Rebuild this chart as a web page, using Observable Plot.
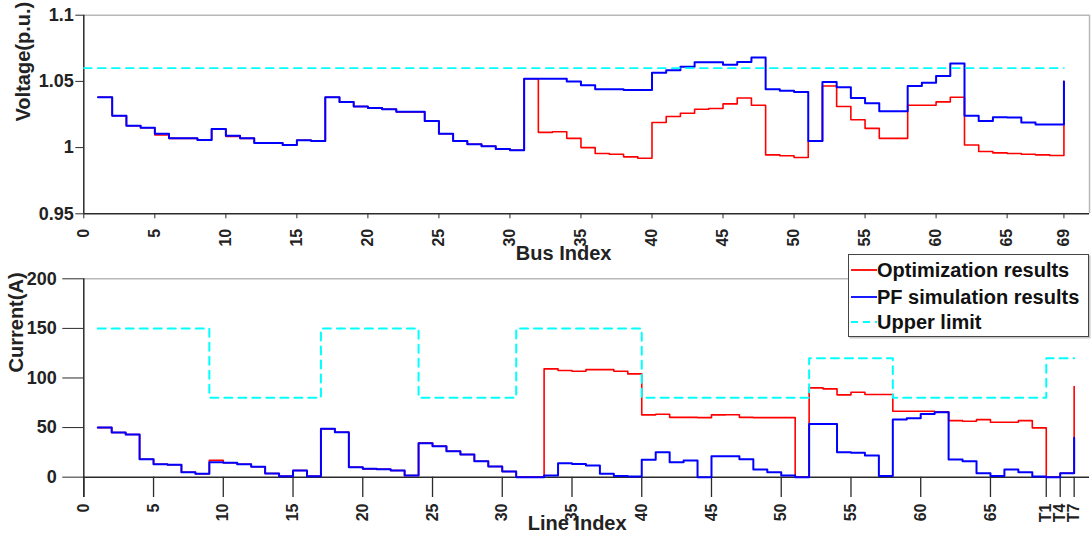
<!DOCTYPE html>
<html>
<head>
<meta charset="utf-8">
<script src="https://cdn.jsdelivr.net/npm/d3@7"></script>
<script src="https://cdn.jsdelivr.net/npm/@observablehq/plot@0.6"></script>
<style>
  body { margin: 0; background: #fff; }
  #wrap { position: relative; width: 1092px; height: 542px; overflow: hidden; font-family: "Liberation Sans", Arial, sans-serif; }
  #top, #bottom, #legend { position: absolute; left: 0; }
  #top { top: 0; }
  #bottom { top: 270px; }
  #legend { top: 0; }
</style>
</head>
<body>
<div id="wrap">
  <div id="top"></div>
  <div id="bottom"></div>
  <div id="legend"></div>
</div>
<script>
// ---------- data ----------
const busIndex = d3.range(1, 70); // 1..69
const voltageOpt = [1.038,1.024,1.0165,1.015,1.0095,1.007,1.007,1.0058,1.014,1.0085,
  1.007,1.0035,1.0035,1.002,1.0055,1.005,1.038,1.0345,1.031,1.030,
  1.029,1.027,1.027,1.020,1.0105,1.005,1.0025,1.001,0.999,0.998,
  1.052,1.0115,1.012,1.007,1.000,0.9955,0.995,0.993,0.992,1.019,
  1.0235,1.026,1.029,1.0295,1.033,1.0375,1.032,0.9945,0.9938,0.9925,
  1.005,1.0465,1.031,1.021,1.0145,1.007,1.007,1.032,1.032,1.0345,
  1.038,1.002,0.997,0.996,0.9955,0.995,0.9945,0.994,1.050];
const voltagePF = [1.038,1.024,1.0165,1.015,1.0105,1.007,1.007,1.0058,1.014,1.009,
  1.007,1.0035,1.0035,1.002,1.0055,1.005,1.038,1.0345,1.031,1.030,
  1.029,1.027,1.027,1.020,1.0105,1.005,1.0025,1.001,0.999,0.998,
  1.052,1.052,1.052,1.050,1.047,1.044,1.044,1.0435,1.0435,1.0565,
  1.0585,1.061,1.0645,1.0645,1.0625,1.0647,1.068,1.044,1.043,1.042,
  1.005,1.0495,1.0455,1.0375,1.0335,1.0275,1.0275,1.0465,1.049,1.054,
  1.0635,1.024,1.020,1.023,1.0228,1.019,1.0175,1.0175,1.050];
const voltageLimitX = [0, 69];
const voltageLimit = [1.06, 1.06];
const voltageTicks = [0.95, 1, 1.05, 1.1];
const busTicks = [0,5,10,15,20,25,30,35,40,45,50,55,60,65,69];

const lineIndex = d3.range(1, 72); // 1..71
const currentOpt = [50,45,43,18,13,12.5,5,3.5,17,14.5,
  13,10.5,3.7,1,6.7,1,48.7,45.3,10,8.4,
  8,6.7,1.7,34.3,31.2,26.2,22.8,16.1,10.8,5.7,
  0,0,109.2,107.5,106.8,108.4,108.4,106.8,104.1,62.8,
  63.5,60.3,60.3,60,62.8,63,60.3,60,60,60,
  0,90,89,83,85.6,83.3,83.3,66.5,66.5,66.5,
  66,57,56.4,58,55.4,55.4,57,49.7,0,4,91.3];
const currentPF = [50,45,43,18,13,12.5,5,3.5,15,14.5,
  13,10.5,3.7,1,6.7,1,48.7,45.3,10,8.4,
  8,6.7,1.7,34.3,31.2,26.2,22.8,16.1,10.8,5.7,
  0,0,1.7,14,13.4,11.7,3.4,1.3,0.7,17.5,
  25.2,15,16.8,0,21.2,21,18,7.7,5,1.7,
  0,53.7,53.7,25.2,24.5,21.8,1.3,58.1,59.4,63.8,
  65.5,17.8,16.1,4,1.3,7.7,5,0.7,0,4,39.7];
const currentLimit = [150,150,150,150,150,150,150,150,80,80,
  80,80,80,80,80,80,150,150,150,150,
  150,150,150,80,80,80,80,80,80,80,
  150,150,150,150,150,150,150,150,150,80,
  80,80,80,80,80,80,80,80,80,80,
  80,120,120,120,120,120,120,80,80,80,
  80,80,80,80,80,80,80,80,120,120,120];
const currentTicks = [0, 50, 100, 150, 200];
const lineTicks = [0,5,10,15,20,25,30,35,40,45,50,55,60,65,69,70,71];
const lineTickLabels = ["0","5","10","15","20","25","30","35","40","45","50","55","60","65","T1","T4","T7"];

const legendLabels = ["Optimization results", "PF simulation results", "Upper limit"];
const legendColors = ["#ff0000", "#0000ff", "#00ffff"];
const legendDash = [null, null, "7,5"];

// ---------- styles ----------
const RED = "#ff0000", BLUE = "#0000ff", CYAN = "#00ffff";
const AXIS = "#2b2b2b", FRAME = "#b8b8b8", TEXT = "#222";
const font = "'Liberation Sans', Arial, sans-serif";

// ---------- top panel ----------
const busMax = 70.8;
const topChart = Plot.plot({
  width: 1092, height: 270,
  marginLeft: 83.3, marginRight: 3, marginTop: 14.7, marginBottom: 56.7,
  x: {domain: [0, busMax]},
  y: {domain: [0.95, 1.1]},
  style: {fontFamily: font, fontWeight: "bold", color: TEXT, background: "transparent", overflow: "visible"},
  marks: [
    Plot.ruleY([1.1], {stroke: FRAME, strokeWidth: 1.5}),
    Plot.ruleX([busMax], {stroke: FRAME, strokeWidth: 1.5}),
    Plot.ruleX([0], {stroke: AXIS, strokeWidth: 1.5}),
    Plot.ruleY([0.95], {stroke: AXIS, strokeWidth: 1.5}),
    Plot.axisY({ticks: voltageTicks, tickFormat: d => String(d), tickSize: 8, tickPadding: 2, fontSize: 18, label: null, stroke: AXIS, fill: TEXT}),
    Plot.axisX({ticks: busTicks, tickFormat: d => String(d), tickRotate: -90, tickSize: 5, tickPadding: 10, fontSize: 16, label: null, stroke: AXIS, fill: TEXT}),
    Plot.line(busIndex, {x: d => d, y: (d, i) => voltageOpt[i], curve: "step-after", stroke: RED, strokeWidth: 1.6}),
    Plot.line(busIndex, {x: d => d, y: (d, i) => voltagePF[i], curve: "step-after", stroke: BLUE, strokeWidth: 2}),
    Plot.line(voltageLimitX, {x: d => d, y: (d, i) => voltageLimit[i], stroke: CYAN, strokeWidth: 1.6, strokeDasharray: "8,6"}),
    Plot.text(["Voltage(p.u.)"], {frameAnchor: "left", dx: -60, dy: 7, rotate: -90, fontSize: 20, fontWeight: "bold", fill: TEXT}),
    Plot.text(["Bus Index"], {frameAnchor: "bottom", dx: -23, dy: 45.7, fontSize: 20, fontWeight: "bold", fill: TEXT})
  ]
});
document.getElementById("top").appendChild(topChart);

// ---------- bottom panel ----------
const lineMax = 72.1;
const curMin = -20.5;
const bottomChart = Plot.plot({
  width: 1092, height: 272,
  marginLeft: 83.3, marginRight: 3, marginTop: 8.3, marginBottom: 45,
  x: {domain: [0, lineMax]},
  y: {domain: [curMin, 200]},
  style: {fontFamily: font, fontWeight: "bold", color: TEXT, background: "transparent", overflow: "visible"},
  marks: [
    Plot.ruleY([200], {stroke: FRAME, strokeWidth: 1.5}),
    Plot.ruleX([0], {stroke: AXIS, strokeWidth: 1.5}),
    Plot.ruleY([0], {stroke: AXIS, strokeWidth: 1.5}),
    Plot.ruleX(lineTicks, {x: d => d, y1: curMin, y2: 0, stroke: AXIS, strokeWidth: 1.3}),
    Plot.axisY({ticks: currentTicks, tickFormat: d => String(d), tickSize: 21, tickPadding: 6, fontSize: 18, label: null, stroke: AXIS, fill: TEXT}),
    Plot.axisX({ticks: lineTicks, tickFormat: (d, i) => lineTickLabels[lineTicks.indexOf(d)], tickRotate: -90, tickSize: 0, tickPadding: 6, fontSize: 16, label: null, fill: TEXT}),
    Plot.line(lineIndex, {x: d => d, y: (d, i) => currentOpt[i], curve: "step-after", stroke: RED, strokeWidth: 1.6}),
    Plot.line(lineIndex, {x: d => d, y: (d, i) => currentPF[i], curve: "step-after", stroke: BLUE, strokeWidth: 2}),
    Plot.line(lineIndex, {x: d => d, y: (d, i) => currentLimit[i], curve: "step-after", stroke: CYAN, strokeWidth: 2, strokeDasharray: "8,6"}),
    Plot.text(["Current(A)"], {frameAnchor: "left", dx: -67, dy: -15.7, rotate: -90, fontSize: 20, fontWeight: "bold", fill: TEXT}),
    Plot.text(["Line Index"], {frameAnchor: "bottom", dx: -9.5, dy: 32, fontSize: 20, fontWeight: "bold", fill: TEXT})
  ]
});
document.getElementById("bottom").appendChild(bottomChart);

// ---------- legend ----------
const lg = d3.select("#legend").append("svg").attr("width", 1092).attr("height", 542)
  .style("position", "absolute").style("left", "0px").style("top", "0px");
lg.append("rect").attr("x", 849.5).attr("y", 255.5).attr("width", 241).attr("height", 83).attr("fill", "#c8c8c8");
lg.append("rect").attr("x", 848.5).attr("y", 254.5).attr("width", 240).attr("height", 82)
  .attr("fill", "#fff").attr("stroke", "#444").attr("stroke-width", 1);
const rowY = [270, 297, 322];
legendLabels.forEach((lab, i) => {
  lg.append("line").attr("x1", 851).attr("x2", 877).attr("y1", rowY[i]).attr("y2", rowY[i])
    .attr("stroke", legendColors[i]).attr("stroke-width", 1.8)
    .attr("stroke-dasharray", legendDash[i]);
  lg.append("text").attr("x", 877).attr("y", rowY[i]).attr("dy", "0.36em")
    .attr("font-family", font).attr("font-weight", "bold").attr("font-size", 20)
    .attr("fill", "#111").text(lab);
});
</script>
</body>
</html>
